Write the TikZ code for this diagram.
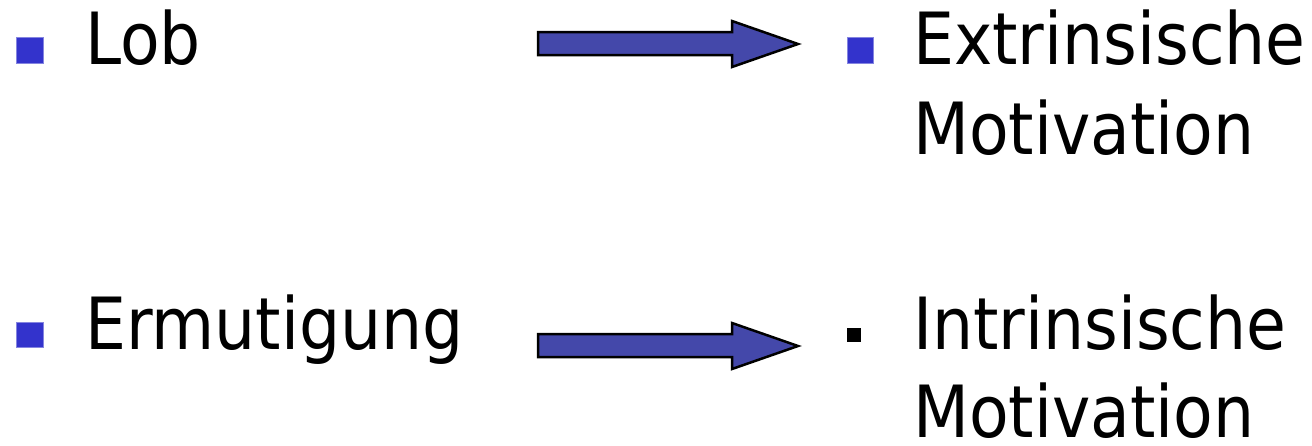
\documentclass[tikz,border=0pt]{standalone}
\usepackage{fontspec}
\setmainfont{DejaVu Sans Condensed}
\definecolor{bulletblue}{RGB}{51,51,204}
\definecolor{arrowfill}{RGB}{68,72,170}
\begin{document}
\begin{tikzpicture}[x=1pt,y=-1pt,
  txt/.style={anchor=base west,inner sep=0pt,font=\fontsize{72}{90}\selectfont},
  bluebullet/.style={fill=bulletblue,draw=bulletblue!60,line width=0.6pt},
  blockarrow/.style={fill=arrowfill,draw=black,line width=2.5pt,line join=miter}]
\useasboundingbox (0,0) rectangle (1312,445);
% bullets
\fill[bluebullet] (16,37) rectangle (43,63);
\fill[bluebullet] (16,322) rectangle (43,347);
\fill[bluebullet] (847,37) rectangle (873,63);
\fill[black] (847,328) rectangle (861,342);
% texts
\node[txt] (lob) at (85,64) {Lob};
\node[txt] (erm) at (85,349) {Ermutigung};
\node[txt] (ext) at (913,64) {Extrinsische};
\node[txt] (extm) at (913,154) {Motivation};
\node[txt] (int) at (913,349) {Intrinsische};
\node[txt] (intm) at (913,437) {Motivation};
% block arrows
\draw[blockarrow] (538,32) -- (732,32) -- (732,21) -- (798,44) -- (732,67) -- (732,55) -- (538,55) -- cycle;
\draw[blockarrow] (538,334) -- (732,334) -- (732,323) -- (798,346) -- (732,369) -- (732,357) -- (538,357) -- cycle;
\end{tikzpicture}
\end{document}
